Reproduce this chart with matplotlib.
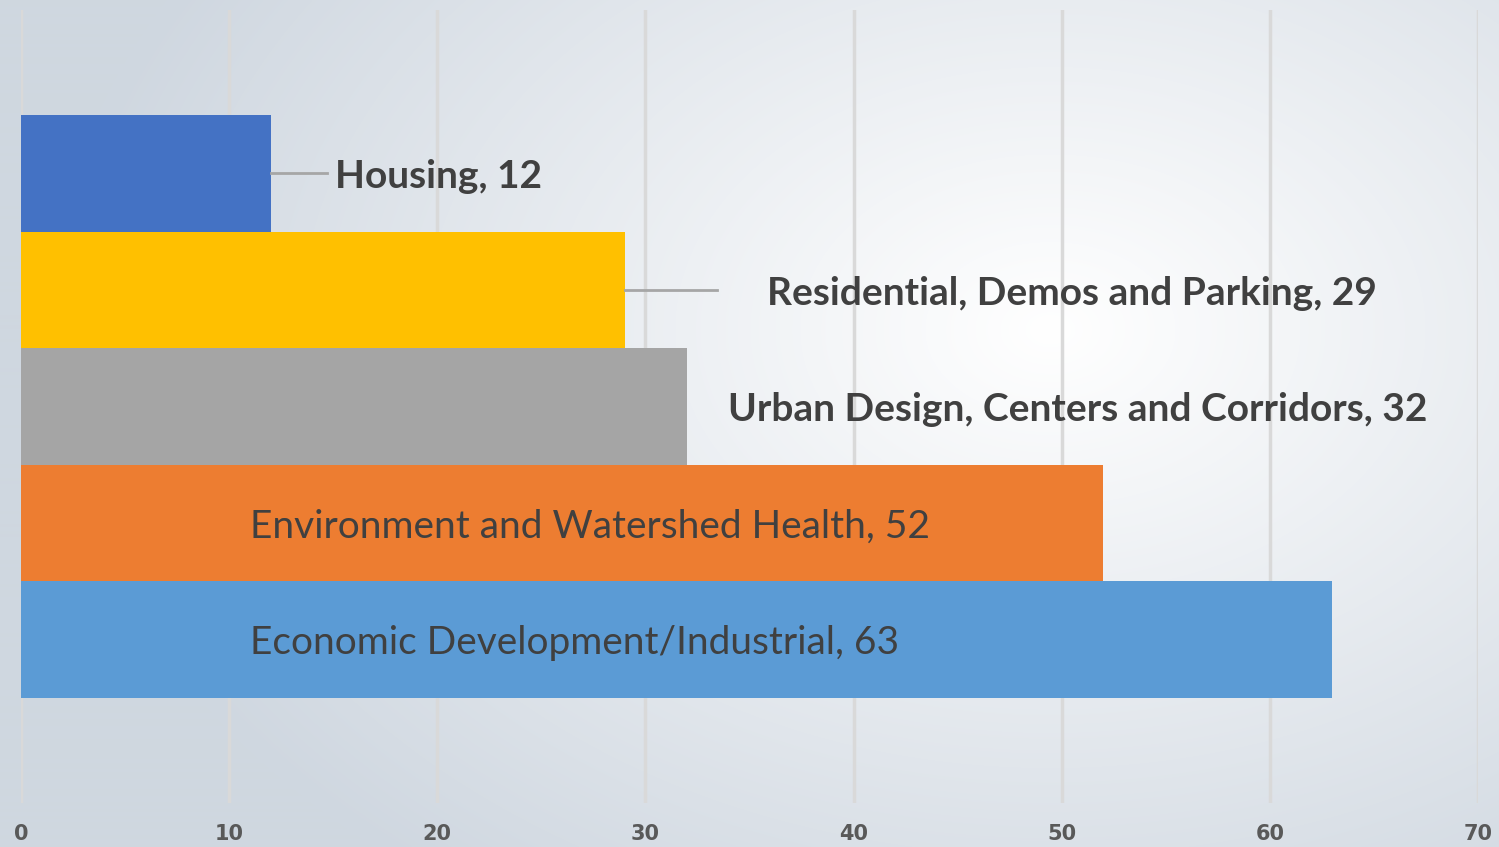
import numpy as np
import matplotlib.pyplot as plt

# categories, bottom to top
categories = ['Economic Development/Industrial', 'Environment and Watershed Health',
              'Urban Design, Centers and Corridors', 'Residential, Demos and Parking', 'Housing']
values = [63, 52, 32, 29, 12]
colors = ['#5B9BD5', '#ED7D31', '#A5A5A5', '#FFC000', '#4472C4']
xticks = [0, 10, 20, 30, 40, 50, 60, 70]

fig = plt.figure(figsize=(14.99, 8.47), dpi=100)

# radial gradient background
bg = fig.add_axes([0, 0, 1, 1], zorder=-10)
yy, xx = np.mgrid[0:847, 0:1499]
r = np.sqrt(((xx - 1050) / 1000.0) ** 2 + ((yy - 330) / 700.0) ** 2)
r = np.clip(r, 0, 1)
c0 = np.array([1.0, 1.0, 1.0])
c1 = np.array([0xcf, 0xd7, 0xe0]) / 255.0
img = c0[None, None, :] * (1 - r[..., None]) + c1[None, None, :] * r[..., None]
bg.imshow(img, aspect='auto', extent=[0, 1, 0, 1])
bg.axis('off')

ax = fig.add_axes([21 / 1499, 44 / 847, 1457 / 1499, 793 / 847])
ax.patch.set_alpha(0)
y = np.arange(len(categories))
ax.barh(y, values, height=1.0, color=colors, zorder=3)

ax.set_xlim(0, 70)
ax.set_ylim(-1.4, 5.4)
ax.set_xticks(xticks)
ax.set_yticks([])
ax.grid(axis='x', color='#d9d9d9', linewidth=2.5, zorder=0)
for s in ax.spines.values():
    s.set_visible(False)
ax.tick_params(axis='x', length=0, pad=15)
ax.set_xticklabels([str(t) for t in xticks], fontsize=15, color='#595959',
                   family='DejaVu Sans', fontweight='bold')

# data labels
label_x = [11.0, 11.0, 33.95, 35.85, 15.1]
bold = [False, False, True, True, True]
for i in range(len(categories)):
    ax.text(label_x[i], y[i] - 0.03, f'{categories[i]}, {values[i]}', va='center', ha='left',
            fontsize=28, color='#404040', family='Lato',
            fontweight='bold' if bold[i] else 'normal', zorder=5)

# leader lines
ax.plot([values[4], 14.7], [y[4], y[4]], color='#a6a6a6', lw=2, zorder=4)
ax.plot([values[3], 33.45], [y[3], y[3]], color='#a6a6a6', lw=2, zorder=4)

fig.savefig('out.png', dpi=100)
